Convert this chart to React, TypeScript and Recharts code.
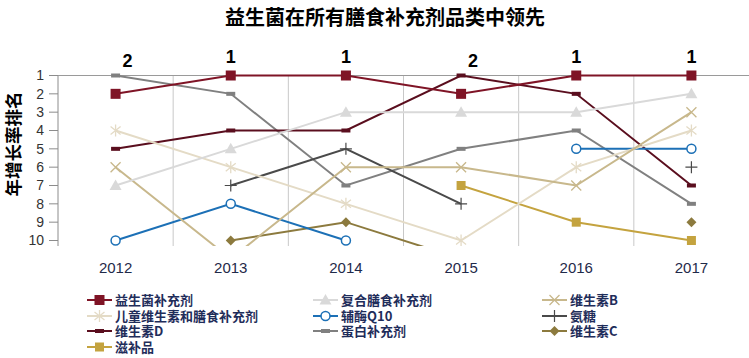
import React from 'react';
import { LineChart, Line, XAxis, YAxis, ReferenceLine } from 'recharts';

const title = '益生菌在所有膳食补充剂品类中领先';
const yTitle = '年增长率排名';
const years = [2012, 2013, 2014, 2015, 2016, 2017];
const rankTicks = [1, 2, 3, 4, 5, 6, 7, 8, 9, 10];

const probiotics = [2, 1, 1, 2, 1, 1];
const multiSupp = [7, 5, 3, 3, 3, 2];
const vitaminB = [6, 11, 6, 6, 7, 3];
const kidsVitamins = [4, 6, 8, 10, 6, 4];
const coq10 = [10, 8, 10, null, 5, 5];
const glucosamine = [null, 7, 5, 8, null, 6];
const vitaminD = [5, 4, 4, 1, 2, 7];
const protein = [1, 2, 7, 5, 4, 8];
const vitaminC = [null, 10, 9, 11, null, 9];
const tonics = [null, null, null, 7, 9, 10];

type Series = { key: string; name: string; values: (number | null)[]; color: string; marker: string };

const series: Series[] = [
  { key: 'probiotics', name: '益生菌补充剂', values: probiotics, color: '#7F1426', marker: 'square' },
  { key: 'multiSupp', name: '复合膳食补充剂', values: multiSupp, color: '#D9D9D9', marker: 'triangle' },
  { key: 'vitaminB', name: '维生素B', values: vitaminB, color: '#C8B88C', marker: 'x' },
  { key: 'kidsVitamins', name: '儿童维生素和膳食补充剂', values: kidsVitamins, color: '#E4DBC6', marker: 'asterisk' },
  { key: 'coq10', name: '辅酶Q10', values: coq10, color: '#1C70B6', marker: 'circle' },
  { key: 'glucosamine', name: '氨糖', values: glucosamine, color: '#4A4A4A', marker: 'plus' },
  { key: 'vitaminD', name: '维生素D', values: vitaminD, color: '#5A0E1E', marker: 'dash' },
  { key: 'protein', name: '蛋白补充剂', values: protein, color: '#808080', marker: 'dash' },
  { key: 'vitaminC', name: '维生素C', values: vitaminC, color: '#8C7A3E', marker: 'diamond' },
  { key: 'tonics', name: '滋补品', values: tonics, color: '#C4A33F', marker: 'squareSm' },
];

const data = years.map((year, i) => {
  const row: Record<string, number | null> = { year };
  series.forEach((s) => {
    row[s.key] = s.values[i];
  });
  return row;
});

function Marker({ type, cx, cy, color }: { type: string; cx: number; cy: number; color: string }) {
  switch (type) {
    case 'square':
      return <rect x={cx - 5} y={cy - 5} width={10} height={10} fill={color} />;
    case 'squareSm':
      return <rect x={cx - 4.5} y={cy - 4.5} width={9} height={9} fill={color} />;
    case 'triangle':
      return <polygon points={`${cx},${cy - 6} ${cx + 6},${cy + 4.5} ${cx - 6},${cy + 4.5}`} fill={color} />;
    case 'x':
      return (
        <path d={`M${cx - 5},${cy - 5}L${cx + 5},${cy + 5}M${cx + 5},${cy - 5}L${cx - 5},${cy + 5}`} stroke={color} strokeWidth={1.3} fill="none" />
      );
    case 'asterisk':
      return (
        <path
          d={`M${cx - 5},${cy - 4}L${cx + 5},${cy + 4}M${cx + 5},${cy - 4}L${cx - 5},${cy + 4}M${cx},${cy - 6}L${cx},${cy + 6}`}
          stroke={color}
          strokeWidth={1.3}
          fill="none"
        />
      );
    case 'circle':
      return <circle cx={cx} cy={cy} r={4.5} fill="#FFFFFF" stroke={color} strokeWidth={1.5} />;
    case 'plus':
      return <path d={`M${cx - 6},${cy}L${cx + 6},${cy}M${cx},${cy - 6}L${cx},${cy + 6}`} stroke={color} strokeWidth={1.2} fill="none" />;
    case 'dash':
      return <rect x={cx - 4.5} y={cy - 2} width={9} height={4} fill={color} />;
    case 'diamond':
      return <polygon points={`${cx},${cy - 5} ${cx + 5},${cy} ${cx},${cy + 5} ${cx - 5},${cy}`} fill={color} />;
    default:
      return null;
  }
}

const makeDot = (s: Series) => (props: any) => {
  const { cx, cy, value, index } = props;
  if (value == null || cx == null || cy == null || Number.isNaN(cy)) return <g key={`${s.key}-${index}`} />;
  return (
    <g key={`${s.key}-${index}`}>
      <Marker type={s.marker} cx={cx} cy={cy} color={s.color} />
    </g>
  );
};

const TopRankTick = (props: any) => {
  const { x, y, payload } = props;
  const idx = years.indexOf(payload.value);
  const rank = probiotics[idx];
  const dx = rank === 2 ? 12 : 0;
  const dy = rank === 2 ? -3 : -7.5;
  return (
    <text x={x + dx} y={y + dy} textAnchor="middle" fontFamily="Liberation Sans, Arial, sans-serif" fontWeight="bold" fontSize={18} fill="#000">
      {rank}
    </text>
  );
};

const fontCJK = '"Noto Sans CJK SC", "Noto Sans", sans-serif';

export default function App() {
  const legendCols = [87, 313, 542];
  const legendRows = [300, 315.5, 331, 347];
  return (
    <div style={{ position: 'absolute', left: 0, top: 0, width: 749, height: 358, background: '#FFFFFF', overflow: 'hidden' }}>
      <div
        style={{
          position: 'absolute',
          left: 0,
          top: 3,
          width: 770,
          textAlign: 'center',
          fontFamily: fontCJK,
          fontWeight: 'bold',
          fontSize: 20,
          lineHeight: '28px',
          color: '#000',
        }}
      >
        {title}
      </div>
      <div
        style={{
          position: 'absolute',
          left: 13 - 60,
          top: 144 - 12,
          width: 120,
          height: 24,
          lineHeight: '24px',
          textAlign: 'center',
          transform: 'rotate(-90deg)',
          fontFamily: fontCJK,
          fontWeight: 'bold',
          fontSize: 17.5,
          color: '#000',
        }}
      >
        {yTitle}
      </div>
      <div style={{ position: 'absolute', left: 0, top: 0 }}>
        <LineChart width={749} height={358} data={data} margin={{ top: 40, right: 0, bottom: 82, left: 0 }}>
          <XAxis
            dataKey="year"
            type="number"
            domain={[2011.5, 2017.5]}
            ticks={years}
            interval={0}
            allowDataOverflow
            axisLine={false}
            tickLine={false}
            tickSize={0}
            tickMargin={16}
            height={30}
            tick={{ fill: '#1F2A4A', fontSize: 15, fontFamily: 'Liberation Sans, Arial, sans-serif' }}
          />
          <XAxis
            xAxisId="top"
            orientation="top"
            dataKey="year"
            type="number"
            domain={[2011.5, 2017.5]}
            ticks={years}
            interval={0}
            allowDataOverflow
            axisLine={false}
            tickLine={false}
            tickSize={0}
            tickMargin={0}
            height={30}
            tick={<TopRankTick />}
          />
          <YAxis
            type="number"
            domain={[0.7, 10.3]}
            reversed
            allowDataOverflow
            ticks={rankTicks}
            interval={0}
            width={58}
            axisLine={false}
            tickLine={{ stroke: '#8C8C8C' }}
            tickSize={9}
            tickMargin={5}
            tick={{ fill: '#333333', fontSize: 14, fontFamily: 'Liberation Sans, Arial, sans-serif' }}
          />
          {years.slice(0, -1).map((y) => (
            <ReferenceLine
              key={`grid-${y}`}
              segment={[
                { x: y + 0.5, y: 1 },
                { x: y + 0.5, y: 10.3 },
              ]}
              stroke="#C8C8C8"
              strokeWidth={1}
            />
          ))}
          <ReferenceLine
            segment={[
              { x: 2011.5, y: 1 },
              { x: 2011.5, y: 10.3 },
            ]}
            stroke="#8C8C8C"
            strokeWidth={1}
          />
          <ReferenceLine y={1} stroke="#9A9A9A" strokeWidth={1} />
          {series
            .slice()
            .reverse()
            .map((s) => (
              <Line
                key={s.key}
                xAxisId={s.key === 'probiotics' ? 'top' : 0}
                dataKey={s.key}
                name={s.name}
                type="linear"
                stroke={s.color}
                strokeWidth={2}
                dot={makeDot(s)}
                activeDot={false}
                connectNulls={false}
                isAnimationActive={false}
              />
            ))}
        </LineChart>
      </div>
      {series.map((s, i) => {
        const col = i % 3;
        const row = Math.floor(i / 3);
        const left = legendCols[col];
        const cy = legendRows[row];
        return (
          <div
            key={`lg-${s.key}`}
            style={{ position: 'absolute', left, top: cy - 7, height: 14, display: 'flex', alignItems: 'center', whiteSpace: 'nowrap' }}
          >
            <svg width={25} height={14} style={{ display: 'block' }}>
              <line x1={0} y1={7} x2={25} y2={7} stroke={s.color} strokeWidth={2} />
              <Marker type={s.marker} cx={12.5} cy={7} color={s.color} />
            </svg>
            <div
              style={{
                display: 'block',
                marginLeft: 3,
                height: 14,
                fontFamily: fontCJK,
                fontWeight: 'bold',
                fontSize: 13,
                lineHeight: '14px',
                color: '#1F2D5A',
              }}
            >
              {s.name}
            </div>
          </div>
        );
      })}
    </div>
  );
}
